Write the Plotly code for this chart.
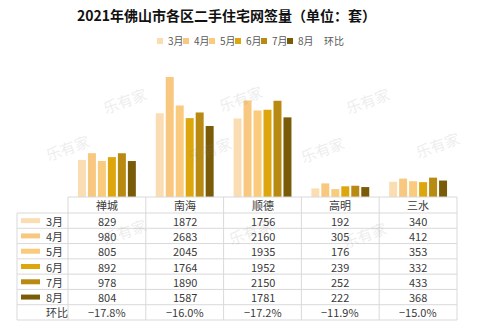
import plotly.graph_objects as go

categories = ["禅城", "南海", "顺德", "高明", "三水"]
months = ["3月", "4月", "5月", "6月", "7月", "8月"]
values = {
    "3月": [829, 1872, 1756, 192, 340],
    "4月": [980, 2683, 2160, 305, 412],
    "5月": [805, 2045, 1935, 176, 353],
    "6月": [892, 1764, 1952, 239, 332],
    "7月": [978, 1890, 2150, 252, 433],
    "8月": [804, 1587, 1781, 222, 368],
}
mom_label = "环比"
mom = ["−17.8%", "−16.0%", "−17.2%", "−11.9%", "−15.0%"]
colors = ["#FBDDB3", "#F8C880", "#FACB7D", "#DDA60C", "#B98A12", "#7A5B08"]
title = "2021年佛山市各区二手住宅网签量（单位：套）"

W, H = 499, 333
L, R, T, B = 68, 457, 55, 197
FONT = "Noto Sans CJK SC"
TXT = "#3a3a3a"


def px(x):
    return (x - L) / (R - L)


def py(y):
    return (B - y) / (B - T)


fig = go.Figure()
for m, c in zip(months, colors):
    fig.add_trace(go.Bar(x=categories, y=values[m], name=m, marker_color=c,
                         marker_line_width=0, showlegend=False))

shapes = []
ann = []

# title
ann.append(dict(x=px(226), y=py(15), xref="paper", yref="paper", text="<b>" + title + "</b>",
                showarrow=False, font=dict(size=14, color="#111", family=FONT),
                xanchor="center", yanchor="middle"))

# top legend
lx = 157
for m, c in zip(months, colors):
    shapes.append(dict(type="rect", xref="paper", yref="paper",
                       x0=px(lx), x1=px(lx + 6), y0=py(38), y1=py(44),
                       fillcolor=c, line_width=0))
    ann.append(dict(x=px(lx + 9), y=py(41), xref="paper", yref="paper", text=m,
                    showarrow=False, font=dict(size=10, color="#595959", family=FONT),
                    xanchor="left", yanchor="middle"))
    lx += 26
ann.append(dict(x=px(lx + 9), y=py(41), xref="paper", yref="paper", text=mom_label,
                showarrow=False, font=dict(size=10, color="#595959", family=FONT),
                xanchor="left", yanchor="middle"))

# table
line_c = "#D9D9D9"
col_x = [L + i * (R - L) / len(categories) for i in range(len(categories) + 1)]
tl = 17
hdr_top, hdr_bot, tbl_bot = 197, 213, 320
nrows = len(months) + 1
rh = (tbl_bot - hdr_bot) / nrows
row_y = [hdr_bot + i * rh for i in range(nrows + 1)]


def line(x0, y0, x1, y1):
    shapes.append(dict(type="line", xref="paper", yref="paper",
                       x0=px(x0), y0=py(y0), x1=px(x1), y1=py(y1),
                       line=dict(color=line_c, width=1)))


line(L, hdr_top, R, hdr_top)
for yy in row_y:
    line(tl, yy, R, yy)
line(tl, hdr_bot, tl, tbl_bot)
for xx in col_x:
    line(xx, hdr_top, xx, tbl_bot)

for i, cat in enumerate(categories):
    cx = (col_x[i] + col_x[i + 1]) / 2
    ann.append(dict(x=px(cx), y=py((hdr_top + hdr_bot) / 2), xref="paper", yref="paper",
                    text=cat, showarrow=False, font=dict(size=11, color=TXT, family=FONT),
                    xanchor="center", yanchor="middle"))

for r, (m, c) in enumerate(zip(months, colors)):
    cy = (row_y[r] + row_y[r + 1]) / 2
    shapes.append(dict(type="rect", xref="paper", yref="paper",
                       x0=px(21), x1=px(40), y0=py(cy - 2.5), y1=py(cy + 2.5),
                       fillcolor=c, line_width=0))
    ann.append(dict(x=px(44), y=py(cy), xref="paper", yref="paper", text=m,
                    showarrow=False, font=dict(size=11, color=TXT, family=FONT),
                    xanchor="left", yanchor="middle"))
    for i in range(len(categories)):
        cx = (col_x[i] + col_x[i + 1]) / 2
        ann.append(dict(x=px(cx), y=py(cy), xref="paper", yref="paper",
                        text=str(values[m][i]), showarrow=False,
                        font=dict(size=11, color=TXT, family=FONT),
                        xanchor="center", yanchor="middle"))

cy = (row_y[-2] + row_y[-1]) / 2
ann.append(dict(x=px(44), y=py(cy), xref="paper", yref="paper", text=mom_label,
                showarrow=False, font=dict(size=11, color=TXT, family=FONT),
                xanchor="left", yanchor="middle"))
for i in range(len(categories)):
    cx = (col_x[i] + col_x[i + 1]) / 2
    ann.append(dict(x=px(cx), y=py(cy), xref="paper", yref="paper", text=mom[i],
                    showarrow=False, font=dict(size=11, color=TXT, family=FONT),
                    xanchor="center", yanchor="middle"))

# faint watermarks
for wx, wy in [(97, 80), (240, 78), (395, 80), (40, 168), (182, 170), (322, 170),
               (465, 165), (97, 252), (250, 252), (392, 255)]:
    ann.append(dict(x=px(wx), y=py(wy), xref="paper", yref="paper", text="乐有家",
                    showarrow=False, textangle=-20, opacity=0.14,
                    font=dict(size=15, color="#888", family=FONT)))

fig.update_layout(
    width=W, height=H,
    margin=dict(l=L, r=W - R, t=T, b=H - B),
    paper_bgcolor="white", plot_bgcolor="white",
    barmode="group", bargap=0.23, bargroupgap=0.2,
    xaxis=dict(showticklabels=False, showgrid=False, zeroline=False, showline=False, ticks=""),
    yaxis=dict(range=[0, 3175], showticklabels=False, showgrid=False, zeroline=False,
               showline=False, ticks=""),
    shapes=shapes, annotations=ann,
    showlegend=False,
)
fig.write_html("out.html")
